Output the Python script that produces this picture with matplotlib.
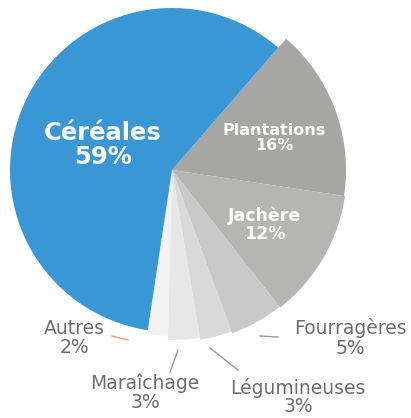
import matplotlib
matplotlib.use('Agg')
import matplotlib.pyplot as plt
import numpy as np

# Données
categories = ["Plantations", "Jachère", "Fourragères", "Légumineuses", "Maraîchage", "Autres", "Céréales"]
valeurs = [16, 12, 5, 3, 3, 2, 59]
couleurs = ["#a6a6a4", "#b5b5b4", "#c9c9c9", "#d9d9d9", "#e7e7e7", "#f2f2f2", "#3a97d6"]
rayons = [174, 175, 174, 172, 170, 166, 162]

plt.rcParams['font.family'] = ['DejaVu Sans']

fig = plt.figure(figsize=(4.11, 4.18), dpi=100)
ax = fig.add_axes([0, 0, 1, 1])

H = 418
centre = (172, H - 170)

wedges, _ = ax.pie(valeurs, colors=couleurs, startangle=49, counterclock=False,
                   center=centre, radius=1, frame=True)
for w, r in zip(wedges, rayons):
    w.set_radius(r)
    w.set_linewidth(0)
ax.set_xlim(0, 411)
ax.set_ylim(0, 418)
ax.set_aspect('equal')
ax.axis('off')

# Étiquettes intérieures
ax.text(103, H - 145, "Céréales\n59%", color="white", fontsize=17.5, fontweight="bold",
        ha="center", va="center", linespacing=1.05)
ax.text(274, H - 138, "Plantations\n16%", color="white", fontsize=11.5, fontweight="bold",
        ha="center", va="center", linespacing=1.0)
ax.text(265, H - 225, "Jachère\n12%", color="white", fontsize=12.5, fontweight="bold",
        ha="center", va="center", linespacing=1.0)

# Étiquettes extérieures
gris = "#6e6e6e"
ext = [
    ("Autres\n2%", (74, 338), [(112, 336), (128, 340)], "#e0a08e"),
    ("Fourragères\n5%", (350, 338), [(260, 336), (278, 337)], "#9a9a9a"),
    ("Maraîchage\n3%", (145, 393), [(178, 350), (170, 372)], "#9a9a9a"),
    ("Légumineuses\n3%", (298, 397), [(210, 348), (238, 370)], "#9a9a9a"),
]
for texte, (x, y), ligne, c in ext:
    ax.text(x, H - y, texte, color=gris, fontsize=13.5, ha="center", va="center", linespacing=1.0)
    xs = [p[0] for p in ligne]
    ys = [H - p[1] for p in ligne]
    ax.plot(xs, ys, color=c, lw=1)

plt.savefig("out.png", dpi=100)
plt.close(fig)
